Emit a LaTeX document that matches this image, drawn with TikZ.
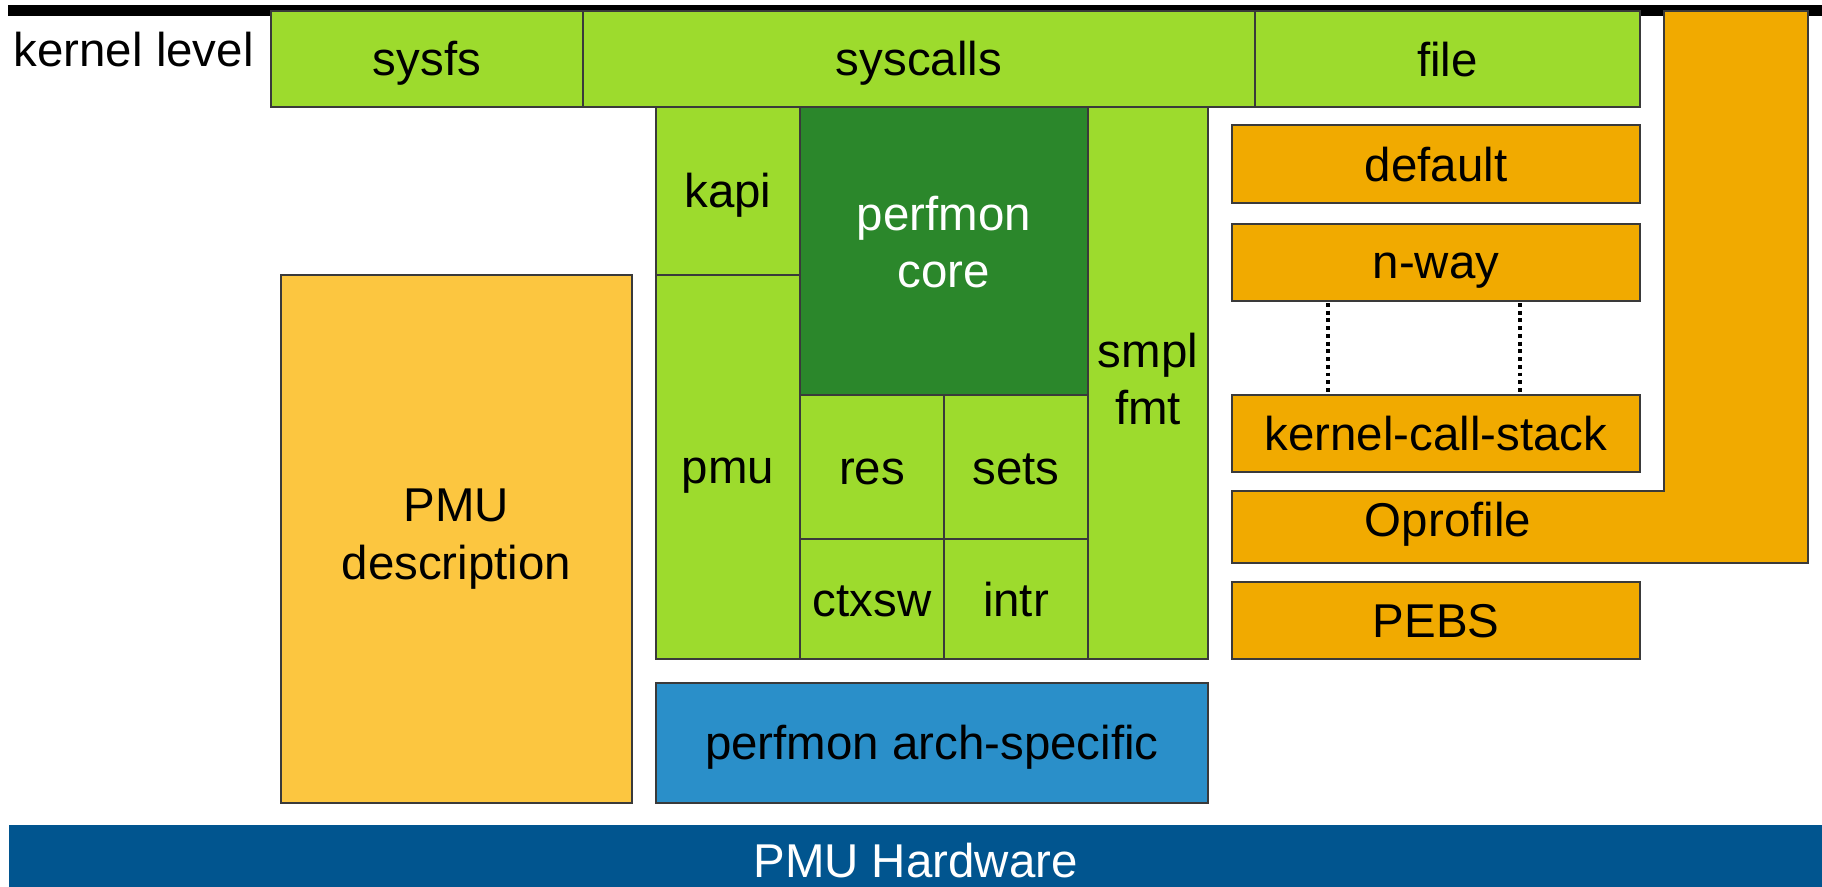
\documentclass[tikz,border=0pt]{standalone}
\usepackage{fontspec}
\setmainfont{Liberation Sans}
\usetikzlibrary{positioning}

\definecolor{lgreen}{HTML}{9DDB2D}
\definecolor{dgreen}{HTML}{2B872B}
\definecolor{sorange}{HTML}{F1AA00}
\definecolor{pmuyellow}{HTML}{FCC640}
\definecolor{archblue}{HTML}{2A8FC9}
\definecolor{hwblue}{HTML}{01558F}
\definecolor{edgegray}{HTML}{3A3A3A}

% same line box for every text line
\newcommand{\lstrut}{\rule[-0.18em]{0pt}{1.08em}}

\begin{document}
\begin{tikzpicture}[
            font=\fontsize{13.5pt}{16.3pt}\selectfont,
            box/.style = {draw=edgegray, line width=0.4pt, inner sep=0pt, outer sep=0pt,
                          anchor=north west, align=center,
                          execute at begin node=\lstrut, execute at end node=\lstrut},
            kbox/.style = {box, fill=lgreen},
            corebox/.style = {box, fill=dgreen, text=white,
                              execute at end node={\rule[-0.40em]{0pt}{0pt}}},
            smplbox/.style = {box, fill=sorange},
            descbox/.style = {box, fill=pmuyellow},
            archbox/.style = {box, fill=archblue},
            hwbox/.style = {box, fill=hwblue, text=white, draw=none},
            dotline/.style = {draw, line width=1.1pt, dash pattern=on 1.1pt off 1.1pt},
            ]
            \useasboundingbox (0,0) rectangle (18.22,-8.86);
            % kernel level line
            \fill[black] (0.08,-0.05) rectangle (18.22,-0.16);
            \node[anchor=base west, inner sep=0pt] (klevel) at (0.13,-0.665) {kernel level};

            % interfaces
            \node[kbox, minimum width=3.12cm, minimum height=0.96cm] (sysfs) at (2.71,-0.11) {sysfs};
            \node[kbox, minimum width=6.72cm, minimum height=0.96cm] (syscalls) at (5.83,-0.11) {syscalls};
            \node[kbox, minimum width=3.85cm, minimum height=0.96cm] (file) at (12.55,-0.11) {file};

            % perfmon core block
            \node[kbox, minimum width=1.44cm, minimum height=1.68cm] (kapi) at (6.56,-1.07) {kapi};
            \node[kbox, minimum width=1.44cm, minimum height=3.84cm] (pmu) at (6.56,-2.75) {pmu};
            \node[corebox, minimum width=2.88cm, minimum height=2.88cm] (core) at (8.00,-1.07) {perfmon\\core};
            \node[kbox, minimum width=1.44cm, minimum height=1.44cm] (res) at (8.00,-3.95) {res};
            \node[kbox, minimum width=1.44cm, minimum height=1.44cm] (sets) at (9.44,-3.95) {sets};
            \node[kbox, minimum width=1.44cm, minimum height=1.20cm] (ctxsw) at (8.00,-5.39) {ctxsw};
            \node[kbox, minimum width=1.44cm, minimum height=1.20cm] (intr) at (9.44,-5.39) {intr};
            \node[kbox, minimum width=1.20cm, minimum height=5.52cm] (smpl) at (10.88,-1.07) {smpl\\fmt};
            \node[archbox, minimum width=5.52cm, minimum height=1.20cm] (arch) at (6.56,-6.83) {perfmon arch-specific};
            \node[descbox, minimum width=3.51cm, minimum height=5.28cm] (pmudesc) at (2.81,-2.75) {PMU\\description};

            % sampling formats
            \node[smplbox, minimum width=4.08cm, minimum height=0.78cm] (default) at (12.32,-1.25) {default};
            \node[smplbox, minimum width=4.08cm, minimum height=0.77cm] (nway) at (12.32,-2.24) {n-way};
            \node[smplbox, minimum width=4.08cm, minimum height=0.77cm] (kcs) at (12.32,-3.95) {kernel-call-stack};
            \node[smplbox, minimum width=4.08cm, minimum height=0.77cm] (pebs) at (12.32,-5.82) {PEBS};
            \filldraw[fill=sorange, draw=edgegray, line width=0.4pt]
                (16.64,-0.11) -- (18.08,-0.11) -- (18.08,-5.63) -- (12.32,-5.63)
                -- (12.32,-4.91) -- (16.64,-4.91) -- cycle;
            \node[inner sep=0pt, execute at begin node=\lstrut] (oprofile) at (14.48,-5.20) {Oprofile};

            \draw[dotline] ([xshift=0.96cm, yshift=-0.02cm]nway.south west) -- ([xshift=0.96cm, yshift=0.03cm]kcs.north west);
            \draw[dotline] ([xshift=2.88cm, yshift=-0.02cm]nway.south west) -- ([xshift=2.88cm, yshift=0.03cm]kcs.north west);

            \node[hwbox, minimum width=18.13cm, minimum height=0.70cm] (hw) at (0.09,-8.25) {PMU Hardware};
        \end{tikzpicture}
\end{document}
